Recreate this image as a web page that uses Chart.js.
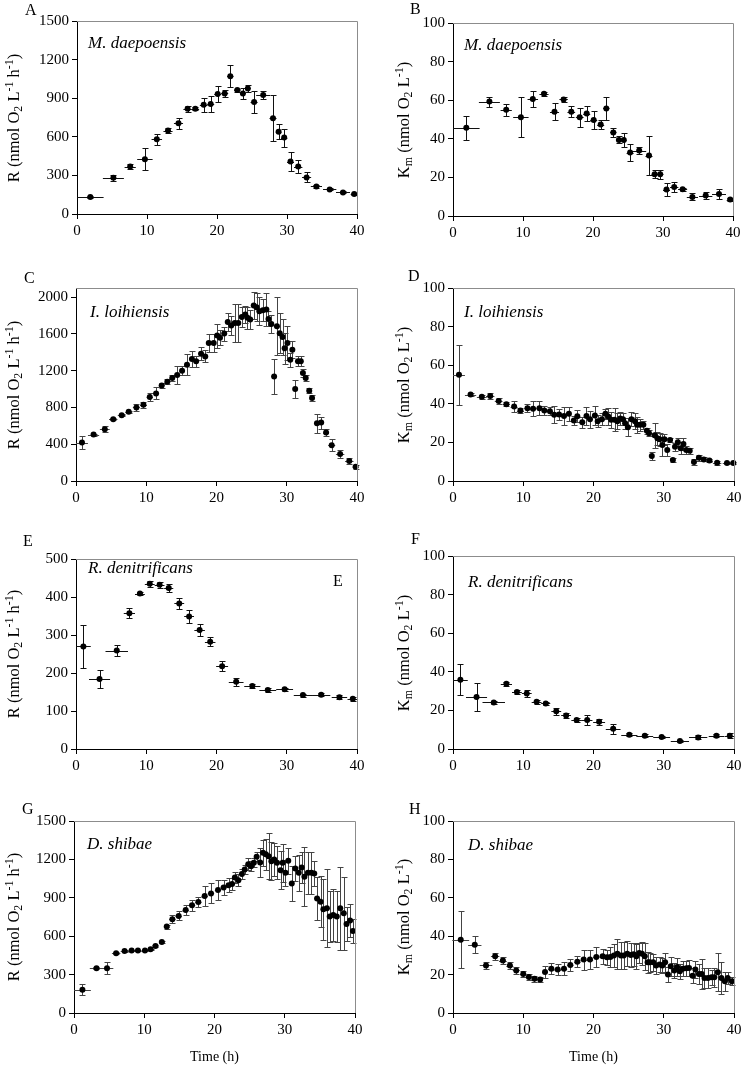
<!DOCTYPE html>
<html>
<head>
<meta charset="utf-8">
<script src="https://cdn.jsdelivr.net/npm/chart.js@4"></script>
<style>
  body { margin: 0; background: #fff; width: 742px; height: 1067px; position: relative; overflow: hidden; }
  canvas { position: absolute; }
  .tag { position: absolute; font: 16px "Liberation Serif", serif; line-height: 16px; color: #000; }
  .sp { position: absolute; font: italic 17px "Liberation Serif", serif; line-height: 20px; color: #000; white-space: nowrap; }
  .yt { position: absolute; font: 16.5px "Liberation Serif", serif; line-height: 1; color: #000; white-space: nowrap;
        transform: translate(-50%, -50%) rotate(-90deg); }
  .yt sub { font-size: 0.72em; vertical-align: -0.3em; line-height: 0; }
  .yt sup { font-size: 0.72em; vertical-align: 0.5em; line-height: 0; }
</style>
</head>
<body>
<canvas id="cA" width="371" height="250" style="left:0;top:0"></canvas>
<canvas id="cB" width="352" height="250" style="left:390px;top:0"></canvas>
<canvas id="cC" width="371" height="250" style="left:0;top:262px"></canvas>
<canvas id="cD" width="352" height="250" style="left:390px;top:262px"></canvas>
<canvas id="cE" width="371" height="255" style="left:0;top:525px"></canvas>
<canvas id="cF" width="352" height="255" style="left:390px;top:525px"></canvas>
<canvas id="cG" width="371" height="277" style="left:0;top:790px"></canvas>
<canvas id="cH" width="352" height="277" style="left:390px;top:790px"></canvas>

<div class="tag" style="left:25px;top:1.5px">A</div>
<div class="tag" style="left:410px;top:0.5px">B</div>
<div class="tag" style="left:24px;top:269.5px">C</div>
<div class="tag" style="left:408px;top:267.5px">D</div>
<div class="tag" style="left:23px;top:532.5px">E</div>
<div class="tag" style="left:411px;top:530.5px">F</div>
<div class="tag" style="left:22px;top:800.5px">G</div>
<div class="tag" style="left:409px;top:800.5px">H</div>
<div class="tag" style="left:333px;top:572.5px">E</div>

<div class="sp" style="left:88px;top:33px">M. daepoensis</div>
<div class="sp" style="left:464px;top:35px">M. daepoensis</div>
<div class="sp" style="left:90px;top:302px">I. loihiensis</div>
<div class="sp" style="left:464px;top:302px">I. loihiensis</div>
<div class="sp" style="left:88px;top:558px">R. denitrificans</div>
<div class="sp" style="left:468px;top:572px">R. denitrificans</div>
<div class="sp" style="left:87px;top:834px">D. shibae</div>
<div class="sp" style="left:468px;top:835px">D. shibae</div>

<div class="yt" style="left:14px;top:118px">R (nmol O<sub>2</sub> L<sup>-1</sup> h<sup>-1</sup>)</div>
<div class="yt" style="left:404px;top:120px">K<sub>m</sub> (nmol O<sub>2</sub> L<sup>-1</sup>)</div>
<div class="yt" style="left:14px;top:385px">R (nmol O<sub>2</sub> L<sup>-1</sup> h<sup>-1</sup>)</div>
<div class="yt" style="left:404px;top:385px">K<sub>m</sub> (nmol O<sub>2</sub> L<sup>-1</sup>)</div>
<div class="yt" style="left:14px;top:654px">R (nmol O<sub>2</sub> L<sup>-1</sup> h<sup>-1</sup>)</div>
<div class="yt" style="left:404px;top:653px">K<sub>m</sub> (nmol O<sub>2</sub> L<sup>-1</sup>)</div>
<div class="yt" style="left:14px;top:917px">R (nmol O<sub>2</sub> L<sup>-1</sup> h<sup>-1</sup>)</div>
<div class="yt" style="left:404px;top:917px">K<sub>m</sub> (nmol O<sub>2</sub> L<sup>-1</sup>)</div>

<script>
// tick labels
const timeTicks = [0, 10, 20, 30, 40];
const rateTicks1500 = [0, 300, 600, 900, 1200, 1500];
const rateTicks2000 = [0, 400, 800, 1200, 1600, 2000];
const rateTicks500 = [0, 100, 200, 300, 400, 500];
const kmTicks = [0, 20, 40, 60, 80, 100];

// M. daepoensis (A, B)
const mdTime = [1.9, 5.2, 7.6, 9.7, 11.4, 13.0, 14.5, 15.8, 16.9, 18.1,
  19.1, 20.1, 21.1, 21.9, 22.9, 23.7, 24.4, 25.3, 26.6, 28.0,
  28.8, 29.6, 30.5, 31.6, 32.8, 34.2, 36.1, 38.0, 39.6];
const mdTimeErr = [1.9, 1.5, 0.8, 1.1, 0.75, 0.65, 0.65, 0.6, 0.55, 0.55,
  0.5, 0.5, 0.5, 0.45, 0.45, 0.4, 0.4, 0.5, 1.0, 0.5,
  0.4, 0.45, 0.5, 0.6, 0.65, 0.8, 0.95, 1.0, 0.5];
const mdRate = [132, 281, 369, 426, 581, 648, 705, 818, 818, 849,
  855, 932, 937, 1071, 963, 937, 976, 870, 924, 744,
  640, 594, 408, 369, 284, 214, 191, 168, 155];
const mdRateErr = [10, 25, 23, 86, 41, 17, 45, 23, 12, 54,
  61, 61, 28, 85, 12, 40, 30, 88, 34, 180,
  57, 70, 70, 49, 39, 15, 8, 8, 6];
const mdKm = [45.7, 59.3, 55.0, 51.2, 60.6, 63.3, 54.0, 60.4, 54.0, 51.2,
  53.1, 49.8, 47.4, 55.7, 43.3, 39.4, 39.4, 32.9, 33.9, 31.3,
  21.6, 21.6, 13.7, 15.0, 13.8, 9.9, 10.6, 11.4, 8.5];
const mdKmErr = [6.2, 2.6, 3.0, 10.4, 4.0, 1.0, 4.3, 1.5, 2.8, 4.9,
  3.8, 4.6, 2.2, 6.2, 2.5, 1.8, 3.6, 4.2, 1.8, 10.0,
  2.0, 2.4, 3.4, 2.4, 0.8, 1.8, 1.8, 2.5, 0.6];

// I. loihiensis (C)
const ilTimeR = [0.85, 2.5, 4.1, 5.3, 6.5, 7.5, 8.6, 9.6, 10.5, 11.4,
  12.2, 13.0, 13.7, 14.4, 15.1, 15.8, 16.5, 17.1, 17.8, 18.4,
  18.9, 19.6, 20.1, 20.5, 21.1, 21.6, 22.1, 22.6, 23.1, 23.6,
  24.1, 24.4, 24.8, 25.3, 25.7, 26.1, 26.6, 27.1, 27.4, 27.8,
  28.2, 28.6, 29.0, 29.4, 29.7, 30.1, 30.5, 30.8, 31.2, 31.6,
  32.0, 32.3, 32.7, 33.2, 33.6, 34.3, 34.9, 35.6, 36.4, 37.6,
  38.9, 39.8];
const ilTimeErrR = [0.85, 0.8, 0.7, 0.6, 0.55, 0.5, 0.5, 0.5, 0.45, 0.4,
  0.4, 0.35, 0.35, 0.35, 0.35, 0.35, 0.3, 0.3, 0.3, 0.3,
  0.25, 0.25, 0.25, 0.25, 0.25, 0.25, 0.25, 0.25, 0.25, 0.25,
  0.2, 0.2, 0.2, 0.2, 0.2, 0.2, 0.2, 0.2, 0.2, 0.2,
  0.2, 0.2, 0.2, 0.2, 0.2, 0.2, 0.2, 0.2, 0.2, 0.2,
  0.2, 0.2, 0.2, 0.25, 0.3, 0.3, 0.35, 0.4, 0.5, 0.6,
  0.6, 0.4];
const ilRate = [418, 505, 564, 673, 716, 753, 800, 829, 913, 953,
  1040, 1080, 1120, 1153, 1200, 1265, 1327, 1302, 1385, 1356,
  1502, 1502, 1582, 1560, 1604, 1731, 1691, 1720, 1720, 1785,
  1811, 1775, 1756, 1909, 1891, 1847, 1858, 1865, 1764, 1709,
  1138, 1684, 1607, 1567, 1444, 1502, 1320, 1429, 1000, 1302,
  1302, 1175, 1120, 982, 902, 629, 636, 527, 389, 295,
  218, 156];
const ilRateErr = [75, 10, 30, 12, 12, 12, 40, 30, 45, 65,
  30, 25, 30, 95, 50, 115, 90, 58, 73, 65,
  102, 102, 130, 80, 76, 98, 100, 209, 210, 109,
  90, 118, 100, 145, 150, 150, 118, 178, 82, 100,
  190, 313, 218, 195, 170, 185, 76, 91, 100, 55,
  55, 40, 30, 25, 35, 102, 65, 40, 67, 40,
  30, 20];

// I. loihiensis (D)
const ilTimeK = [0.85, 2.5, 4.1, 5.3, 6.5, 7.6, 8.7, 9.6, 10.6, 11.4,
  12.3, 13.0, 13.8, 14.4, 15.1, 15.8, 16.5, 17.2, 17.7, 18.4,
  19.0, 19.5, 20.2, 20.6, 21.2, 21.7, 22.1, 22.5, 23.0, 23.4,
  23.8, 24.2, 24.5, 24.9, 25.4, 25.9, 26.2, 26.6, 27.1, 27.6,
  27.9, 28.3, 28.7, 29.1, 29.4, 29.8, 30.1, 30.5, 30.9, 31.3,
  31.6, 32.0, 32.4, 32.8, 33.2, 33.7, 34.3, 35.0, 35.7, 36.5,
  37.6, 39.0, 39.9];
const ilTimeErrK = [0.85, 0.8, 0.7, 0.6, 0.55, 0.5, 0.5, 0.5, 0.45, 0.4,
  0.4, 0.35, 0.35, 0.35, 0.35, 0.35, 0.3, 0.3, 0.3, 0.3,
  0.25, 0.25, 0.25, 0.25, 0.25, 0.25, 0.25, 0.25, 0.25, 0.25,
  0.2, 0.2, 0.2, 0.2, 0.2, 0.2, 0.2, 0.2, 0.2, 0.2,
  0.2, 0.2, 0.2, 0.2, 0.2, 0.2, 0.2, 0.2, 0.2, 0.2,
  0.2, 0.2, 0.2, 0.2, 0.25, 0.3, 0.3, 0.35, 0.4, 0.5,
  0.6, 0.6, 0.4];
const ilKm = [55.0, 44.8, 43.6, 44.1, 41.5, 39.8, 38.6, 36.5, 37.7, 37.4,
  37.7, 36.5, 36.2, 34.3, 34.4, 33.7, 34.9, 31.3, 33.6, 30.4,
  33.7, 32.0, 33.9, 31.0, 32.0, 34.8, 33.4, 31.7, 31.7, 31.0,
  32.4, 32.0, 29.9, 27.9, 32.0, 31.0, 29.1, 29.1, 29.1, 26.1,
  24.7, 13.0, 23.7, 22.1, 21.6, 18.7, 21.6, 16.1, 21.3, 10.9,
  17.8, 20.1, 17.0, 19.2, 16.1, 15.7, 9.9, 12.1, 11.2, 10.6,
  9.5, 9.3, 9.3];
const ilKmErr = [15.7, 1.0, 1.0, 1.7, 1.5, 1.0, 2.6, 1.5, 2.0, 3.9,
  3.5, 2.5, 2.0, 4.5, 3.0, 4.8, 3.7, 2.5, 3.0, 2.7,
  4.8, 4.3, 5.0, 3.0, 3.0, 2.5, 4.3, 4.0, 6.0, 4.0,
  3.5, 3.0, 3.0, 4.7, 3.5, 4.3, 4.3, 3.0, 2.0, 1.5,
  1.5, 2.0, 6.4, 3.5, 3.5, 5.8, 3.0, 3.0, 1.0, 1.0,
  2.0, 2.0, 3.0, 3.0, 2.0, 1.5, 1.5, 1.5, 1.0, 1.0,
  1.0, 0.5, 0.5];

// R. denitrificans (E, F)
const rdTime = [1.05, 3.35, 5.8, 7.6, 9.1, 10.5, 11.9, 13.2, 14.7, 16.1,
  17.6, 19.1, 20.8, 22.8, 25.1, 27.3, 29.7, 32.3, 34.9, 37.5, 39.4];
const rdTimeErr = [1.05, 1.5, 1.6, 0.8, 0.7, 0.7, 0.7, 0.65, 0.7, 0.7,
  0.75, 0.75, 0.85, 1.05, 1.15, 1.2, 1.2, 1.3, 1.3, 1.1, 0.75];
const rdRate = [270, 184, 259, 357, 409, 435, 432, 424, 383, 349,
  313, 282, 218, 177, 166, 155, 157, 142, 143, 136, 132];
const rdRateErr = [56, 23, 15, 13, 4, 8, 7, 10, 14, 18,
  15, 12, 14, 10, 5, 5, 4, 4, 4, 5, 5];
const rdKm = [35.9, 26.9, 24.1, 33.8, 29.5, 28.8, 24.5, 23.6, 19.5, 17.4,
  15.0, 15.0, 14.1, 10.5, 7.4, 6.9, 6.2, 4.1, 6.0, 6.9, 6.9];
const rdKmErr = [8.0, 7.3, 1.0, 1.0, 1.0, 1.8, 1.0, 1.0, 2.0, 1.5,
  1.0, 2.4, 1.5, 2.5, 0.8, 0.7, 0.7, 0.5, 1.0, 0.9, 1.2];

// D. shibae (G)
const dsTimeR = [1.2, 3.2, 4.7, 6.0, 7.2, 8.2, 9.1, 10.1, 10.9, 11.6,
  12.5, 13.2, 14.0, 14.9, 15.9, 16.8, 17.7, 18.6, 19.5, 20.5,
  21.3, 22.0, 22.5, 22.9, 23.4, 23.9, 24.3, 24.8, 25.2, 25.6,
  26.0, 26.5, 26.9, 27.3, 27.7, 28.1, 28.5, 28.9, 29.4, 29.7,
  30.1, 30.5, 31.0, 31.5, 32.0, 32.4, 32.8, 33.3, 33.8, 34.2,
  34.6, 35.1, 35.5, 36.0, 36.4, 36.9, 37.4, 37.9, 38.4, 38.8,
  39.3, 39.7];
const dsRate = [182, 350, 350, 467, 485, 488, 488, 488, 498, 524,
  555, 675, 732, 758, 805, 841, 867, 914, 934, 960,
  981, 999, 1007, 1059, 1038, 1085, 1121, 1163, 1147, 1173,
  1220, 1176, 1251, 1241, 1225, 1186, 1199, 1173, 1116, 1173,
  1095, 1189, 1012, 1129, 1095, 1137, 1064, 1095, 1095, 1090,
  895, 869, 810, 818, 753, 766, 753, 818, 779, 696,
  722, 641];
const dsRateErr = [43, 8, 45, 8, 5, 5, 5, 5, 5, 7,
  7, 15, 32, 35, 39, 42, 39, 75, 78, 78,
  58, 52, 45, 40, 45, 40, 35, 45, 40, 35,
  35, 110, 100, 120, 180, 150, 130, 130, 150, 150,
  100, 100, 135, 100, 140, 120, 230, 165, 165, 100,
  170, 200, 240, 305, 200, 200, 200, 325, 285, 130,
  130, 95];

// D. shibae (H)
const dsTimeK = [1.1, 3.1, 4.7, 6.0, 7.1, 8.1, 9.0, 10.0, 10.8, 11.6,
  12.4, 13.1, 14.0, 14.9, 15.8, 16.7, 17.7, 18.6, 19.5, 20.4,
  21.3, 21.9, 22.4, 22.9, 23.4, 23.9, 24.3, 24.8, 25.3, 25.7,
  26.1, 26.5, 26.9, 27.3, 27.7, 28.0, 28.5, 28.9, 29.4, 29.8,
  30.2, 30.6, 31.0, 31.5, 31.9, 32.3, 32.7, 33.2, 33.6, 34.1,
  34.5, 35.0, 35.4, 35.8, 36.3, 36.8, 37.2, 37.7, 38.2, 38.7,
  39.1, 39.7];
const dsKm = [38.2, 35.6, 24.8, 29.5, 27.3, 24.7, 22.2, 20.3, 18.8, 17.9,
  17.5, 21.4, 23.1, 22.6, 23.1, 25.0, 26.7, 27.8, 27.8, 29.2,
  29.5, 29.0, 29.2, 29.9, 30.9, 30.0, 30.0, 30.9, 30.2, 30.6,
  29.5, 31.2, 30.9, 29.5, 26.4, 26.4, 26.4, 24.7, 25.2, 24.7,
  26.4, 20.0, 24.3, 22.2, 24.0, 21.7, 23.1, 23.3, 23.4, 19.4,
  22.6, 20.3, 20.3, 18.2, 18.2, 18.6, 18.6, 21.2, 18.2, 16.5,
  18.2, 16.5];
const dsKmErr = [15, 4.5, 2, 2, 2, 2, 2, 1.5, 1.5, 1.5,
  1.5, 3, 3, 3, 3.5, 3, 3, 5.2, 5, 5,
  4, 4, 5, 6, 7.8, 7, 7, 6.5, 6.5, 6,
  6.5, 5, 6, 7, 5.5, 5, 4.5, 4.5, 4, 4,
  5, 4, 5, 4, 4.5, 4, 4, 4, 4, 4,
  4.5, 5, 8, 5, 5, 4, 5, 10, 8.5, 5,
  3, 2];
const dsTimeErr = [1.2, 0.95, 0.9, 0.6, 0.55, 0.5, 0.5, 0.45, 0.4, 0.4,
  0.4, 0.4, 0.45, 0.45, 0.45, 0.45, 0.45, 0.45, 0.45, 0.45,
  0.4, 0.3, 0.25, 0.25, 0.25, 0.25, 0.25, 0.25, 0.2, 0.2,
  0.2, 0.2, 0.2, 0.2, 0.2, 0.2, 0.2, 0.2, 0.2, 0.2,
  0.2, 0.25, 0.25, 0.25, 0.25, 0.2, 0.2, 0.25, 0.25, 0.2,
  0.2, 0.2, 0.2, 0.25, 0.2, 0.25, 0.25, 0.25, 0.25, 0.2,
  0.25, 0.25];

const FONT = '"Liberation Serif", "Times New Roman", serif';

// horizontal + vertical error bars
const errorBars = {
  id: "errorBars",
  beforeDatasetsDraw(chart, args, opts) {
    const ctx = chart.ctx;
    const xs = chart.scales.x;
    const ys = chart.scales.y;
    const pts = chart.data.datasets[0].data;
    ctx.save();
    ctx.strokeStyle = opts.color || "#000";
    ctx.lineWidth = 1;
    ctx.beginPath();
    pts.forEach((p) => {
      const px = Math.round(xs.getPixelForValue(p.x)) + 0.5;
      const py = Math.round(ys.getPixelForValue(p.y)) + 0.5;
      if (p.xErr) {
        ctx.moveTo(xs.getPixelForValue(p.x - p.xErr), py);
        ctx.lineTo(xs.getPixelForValue(p.x + p.xErr), py);
      }
      if (p.yErr) {
        const top = Math.round(ys.getPixelForValue(p.y + p.yErr)) + 0.5;
        const bot = Math.round(ys.getPixelForValue(Math.max(p.y - p.yErr, 0))) + 0.5;
        ctx.moveTo(px, top);
        ctx.lineTo(px, bot);
        ctx.moveTo(px - 3, top);
        ctx.lineTo(px + 3, top);
        ctx.moveTo(px - 3, bot);
        ctx.lineTo(px + 3, bot);
      }
    });
    ctx.stroke();
    ctx.restore();
  },
};

// grey box on top and right of the plot area
const frame = {
  id: "frame",
  afterDraw(chart) {
    const { ctx, chartArea: a } = chart;
    ctx.save();
    ctx.strokeStyle = "#8c8c8c";
    ctx.lineWidth = 1;
    ctx.beginPath();
    ctx.moveTo(Math.round(a.left), Math.round(a.top) + 0.5);
    ctx.lineTo(Math.round(a.right) + 0.5, Math.round(a.top) + 0.5);
    ctx.lineTo(Math.round(a.right) + 0.5, Math.round(a.bottom));
    ctx.stroke();
    ctx.restore();
  },
};

function makePanel(id, canvas, area, xs, xErr, ys, yErr, yMax, yTicks, showTime, errColor) {
  const el = document.getElementById(id);
  const yw = area.l - canvas.left;
  const xh = canvas.top + el.height - area.b;
  const padTop = area.t - canvas.top;
  const padRight = canvas.left + el.width - area.r;
  const points = xs.map((x, i) => ({ x: x, y: ys[i], xErr: xErr[i], yErr: yErr[i] }));

  return new Chart(el, {
    type: "scatter",
    data: {
      datasets: [{
        data: points,
        pointRadius: 3,
        pointHoverRadius: 3,
        backgroundColor: "#000",
        borderWidth: 0,
        showLine: false,
        clip: false,
      }],
    },
    options: {
      responsive: false,
      animation: false,
      events: [],
      layout: { padding: { top: padTop, right: padRight, left: 0, bottom: 0 } },
      plugins: {
        legend: { display: false },
        tooltip: { enabled: false },
        errorBars: { color: errColor },
      },
      scales: {
        x: {
          type: "linear",
          min: 0,
          max: 40,
          afterBuildTicks(s) {
            s.ticks = timeTicks.map((v) => ({ value: v }));
          },
          ticks: { color: "#000", padding: 3, font: { family: FONT, size: 15 }, maxRotation: 0, callback: (v) => String(v) },
          grid: { drawOnChartArea: false, tickLength: 5, color: "#000" },
          border: { color: "#000" },
          title: {
            display: showTime,
            text: "Time (h)",
            color: "#000",
            font: { family: FONT, size: 14 },
            padding: { top: 0, bottom: 1 },
          },
          afterFit(s) {
            s.height = xh;
            s.paddingLeft = 0;
            s.paddingRight = 0;
          },
        },
        y: {
          type: "linear",
          min: 0,
          max: yMax,
          afterBuildTicks(s) {
            s.ticks = yTicks.map((v) => ({ value: v }));
          },
          ticks: { color: "#000", padding: 3, font: { family: FONT, size: 15 }, callback: (v) => String(v) },
          grid: { drawOnChartArea: false, tickLength: 5, color: "#000" },
          border: { color: "#000" },
          afterFit(s) {
            s.width = yw;
            s.paddingTop = 0;
            s.paddingBottom = 0;
          },
        },
      },
    },
    plugins: [errorBars, frame],
  });
}

const leftCol = (top) => ({ left: 0, top: top });
const rightCol = (top) => ({ left: 390, top: top });

makePanel("cA", leftCol(0), { l: 77, t: 21, r: 357, b: 214 },
  mdTime, mdTimeErr, mdRate, mdRateErr, 1500, rateTicks1500, false, "#111");
makePanel("cB", rightCol(0), { l: 453, t: 23, r: 733, b: 216 },
  mdTime, mdTimeErr, mdKm, mdKmErr, 100, kmTicks, false, "#111");
makePanel("cC", leftCol(262), { l: 76, t: 288, r: 357, b: 481 },
  ilTimeR, ilTimeErrR, ilRate, ilRateErr, 2100, rateTicks2000, false, "#444");
makePanel("cD", rightCol(262), { l: 453, t: 288, r: 734, b: 481 },
  ilTimeK, ilTimeErrK, ilKm, ilKmErr, 100, kmTicks, false, "#444");
makePanel("cE", leftCol(525), { l: 76, t: 559, r: 357, b: 749 },
  rdTime, rdTimeErr, rdRate, rdRateErr, 500, rateTicks500, false, "#111");
makePanel("cF", rightCol(525), { l: 453, t: 556, r: 734, b: 749 },
  rdTime, rdTimeErr, rdKm, rdKmErr, 100, kmTicks, false, "#111");
makePanel("cG", leftCol(790), { l: 74, t: 821, r: 355, b: 1013 },
  dsTimeR, dsTimeErr, dsRate, dsRateErr, 1500, rateTicks1500, true, "#444");
makePanel("cH", rightCol(790), { l: 453, t: 821, r: 734, b: 1013 },
  dsTimeK, dsTimeErr, dsKm, dsKmErr, 100, kmTicks, true, "#444");
</script>
</body>
</html>
